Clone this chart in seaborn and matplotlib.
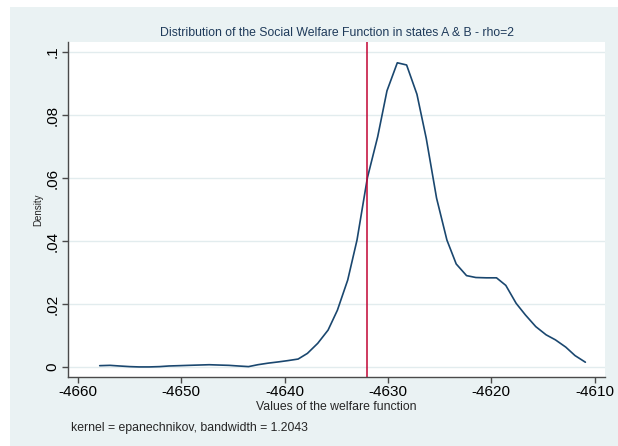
import numpy as np
import pandas as pd
import seaborn as sns
import matplotlib.pyplot as plt
from matplotlib.patches import Rectangle

# kernel density estimate of the welfare function (50 grid points)
welfare = [-4657.9, -4656.9, -4656.0, -4655.0, -4654.1, -4653.1, -4652.1, -4651.2, -4650.2, -4649.3,
           -4648.3, -4647.3, -4646.4, -4645.4, -4644.5, -4643.5, -4642.6, -4641.6, -4640.6, -4639.7,
           -4638.7, -4637.8, -4636.8, -4635.8, -4634.9, -4633.9, -4633.0, -4632.0, -4631.0, -4630.1,
           -4629.1, -4628.2, -4627.2, -4626.3, -4625.3, -4624.3, -4623.4, -4622.4, -4621.5, -4620.5,
           -4619.5, -4618.6, -4617.6, -4616.7, -4615.7, -4614.7, -4613.8, -4612.8, -4611.9, -4610.9]
density = [0.0004, 0.0005, 0.0003, 0.0001, 0.0000, 0.0000, 0.0001, 0.0003, 0.0004, 0.0005,
           0.0006, 0.0007, 0.0006, 0.0005, 0.0003, 0.0001, 0.0007, 0.0012, 0.0016, 0.0020,
           0.0025, 0.0043, 0.0075, 0.0117, 0.0180, 0.0276, 0.0403, 0.0600, 0.0731, 0.0877,
           0.0966, 0.0959, 0.0866, 0.0726, 0.0536, 0.0403, 0.0327, 0.0290, 0.0284, 0.0283,
           0.0283, 0.0259, 0.0202, 0.0165, 0.0128, 0.0102, 0.0086, 0.0063, 0.0036, 0.0015]
ref_value = -4632.0

xticks = [-4660, -4650, -4640, -4630, -4620, -4610]
yticks = [0, 0.02, 0.04, 0.06, 0.08, 0.1]
ytick_labels = ["0", ".02", ".04", ".06", ".08", ".1"]

#Plot options
sns.set_style("white")
plt.rcParams['font.family'] = ['Liberation Sans', 'DejaVu Sans']
panel_col = "#EAF2F3"
navy = "#1A476F"
axis_col = "#4A4A4A"

df = pd.DataFrame({"welfare": welfare, "density": density})

fig = plt.figure(figsize=(6.18, 4.46), dpi=100)
fig.patch.set_facecolor("white")
# Stata-like outer graph region
fig.patches.append(Rectangle((10 / 618, 0), 1, 1 - 7 / 446, transform=fig.transFigure,
                             facecolor=panel_col, edgecolor="none", zorder=-10))
ax = fig.add_axes([68 / 618, 1 - 377 / 446, (605 - 68) / 618, (377 - 42) / 446])
ax.set_facecolor("white")

sns.lineplot(data=df, x="welfare", y="density", ax=ax, color=navy, linewidth=1.2)
ax.axvline(ref_value, color="#C10534", linewidth=1.1)

ax.set_xlim(-4660.97, -4609.0)
ax.set_ylim(-0.0032, 0.1032)
ax.set_xticks(xticks)
ax.set_xticklabels([str(t) for t in xticks])
ax.set_yticks(yticks)
ax.set_yticklabels(ytick_labels, rotation=90, va="center")
ax.grid(axis="y", color="#E2ECEE", linewidth=1.0)
ax.set_axisbelow(True)

for side in ["top", "right"]:
    ax.spines[side].set_visible(False)
for side in ["left", "bottom"]:
    ax.spines[side].set_color(axis_col)
    ax.spines[side].set_linewidth(1.0)
ax.tick_params(axis="both", direction="out", length=4, width=1.0, color=axis_col,
               labelsize=11, labelcolor="black", left=True, bottom=True)
ax.tick_params(axis="x", pad=2)
ax.tick_params(axis="y", pad=2)

ax.set_xlabel("Values of the welfare function", fontsize=8.8, labelpad=1.5)
ax.set_ylabel("Density", fontsize=7, labelpad=2)
ax.set_title("Distribution of the Social Welfare Function in states A & B - rho=2",
             fontsize=8.8, color="#1E3A5A", pad=4)
fig.text(71 / 618, 1 - 428 / 446, "kernel = epanechnikov, bandwidth = 1.2043",
         fontsize=8.8, ha="left", va="center")

fig.savefig("out.png", dpi=100)
